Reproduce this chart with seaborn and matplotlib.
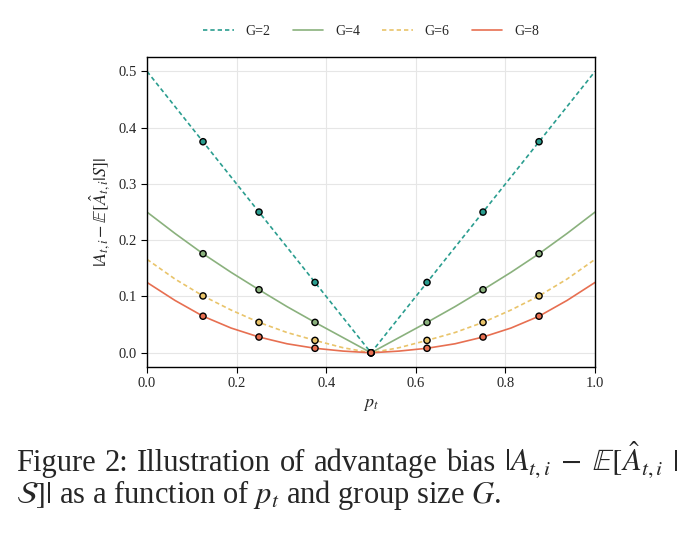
import numpy as np
import pandas as pd
from matplotlib import pyplot as plt
import seaborn as sns

# values
p_line = [0.0, 0.0625, 0.125, 0.1875, 0.25, 0.3125, 0.375, 0.4375, 0.5,
          0.5625, 0.625, 0.6875, 0.75, 0.8125, 0.875, 0.9375, 1.0]
bias_g2 = [0.5, 0.4375, 0.375, 0.3125, 0.25, 0.1875, 0.125, 0.0625, 0.0,
           0.0625, 0.125, 0.1875, 0.25, 0.3125, 0.375, 0.4375, 0.5]
bias_g4 = [0.25, 0.212, 0.176, 0.143, 0.112, 0.082, 0.054, 0.027, 0.0,
           0.027, 0.054, 0.082, 0.112, 0.143, 0.176, 0.212, 0.25]
bias_g6 = [0.166, 0.131, 0.101, 0.076, 0.054, 0.036, 0.022, 0.009, 0.0,
           0.009, 0.022, 0.036, 0.054, 0.076, 0.101, 0.131, 0.166]
bias_g8 = [0.125, 0.093, 0.065, 0.044, 0.028, 0.016, 0.008, 0.003, 0.0,
           0.003, 0.008, 0.016, 0.028, 0.044, 0.065, 0.093, 0.125]

p_marks = [0.125, 0.25, 0.375, 0.5, 0.625, 0.75, 0.875]
marks_g2 = [0.375, 0.25, 0.125, 0.0, 0.125, 0.25, 0.375]
marks_g4 = [0.176, 0.112, 0.054, 0.0, 0.054, 0.112, 0.176]
marks_g6 = [0.101, 0.054, 0.022, 0.0, 0.022, 0.054, 0.101]
marks_g8 = [0.065, 0.028, 0.008, 0.0, 0.008, 0.028, 0.065]

groups = ["G=2", "G=4", "G=6", "G=8"]
colors = ["#2a9d8f", "#8ab17d", "#e9c46a", "#e76f51"]

lines = pd.concat([pd.DataFrame({"p": p_line, "bias": b, "G": g})
                   for g, b in zip(groups, [bias_g2, bias_g4, bias_g6, bias_g8])])
marks = pd.concat([pd.DataFrame({"p": p_marks, "bias": b, "G": g})
                   for g, b in zip(groups, [marks_g2, marks_g4, marks_g6, marks_g8])])

sns.set_style("ticks")
plt.rcParams["font.family"] = ["Liberation Serif", "DejaVu Serif"]
plt.rcParams["mathtext.fontset"] = "stix"

fig = plt.figure(figsize=(6.86, 5.35), dpi=100)
ax = fig.add_axes([0.2143, 0.3143, 0.6531, 0.5786])

palette = dict(zip(groups, colors))
dashes = {"G=2": (2.6, 1.8), "G=4": "", "G=6": (2.6, 1.8), "G=8": ""}
sns.lineplot(data=lines, x="p", y="bias", hue="G", style="G", palette=palette,
             dashes=dashes, linewidth=1.2, ax=ax)
sns.scatterplot(data=marks, x="p", y="bias", hue="G", palette=palette, s=20,
                edgecolor="black", linewidth=1.0, legend=False, zorder=5, ax=ax)

ax.set_xlim(0, 1)
ax.set_ylim(-0.025, 0.525)
ax.set_xticks([0.0, 0.2, 0.4, 0.6, 0.8, 1.0])
ax.set_yticks([0.0, 0.1, 0.2, 0.3, 0.4, 0.5])
ax.grid(True, color="#e6e6e6", linewidth=0.8)
ax.set_axisbelow(True)
ax.tick_params(labelsize=10.5, direction="out", length=4, width=0.8, color="black")
for s in ax.spines.values():
    s.set_visible(True)
    s.set_color("black")
    s.set_linewidth(1.0)
ax.set_xlabel("$p_t$", fontsize=13)
ax.set_ylabel(r"$|A_{t,i} - \mathbb{E}[\hat{A}_{t,i}|S]|$", fontsize=13)

handles, labels = ax.get_legend_handles_labels()
ax.legend(handles, labels, loc="lower center", bbox_to_anchor=(0.5, 1.022),
          ncol=4, frameon=False, fontsize=10, handlelength=2.2,
          handletextpad=0.85, columnspacing=1.6)

# caption, first line justified like LaTeX
cap_size = 22
words = ["Figure", "2:", "Illustration", "of", "advantage", "bias",
         r"$|A_{t,i}\;-\;\mathbb{E}[\hat{A}_{t,i}$", r"$|$"]
x_left, x_right = 16 / 686, 678 / 686
texts = [fig.text(0, 0.1202, w, fontsize=cap_size, va="baseline") for w in words]
renderer = fig.canvas.get_renderer()
widths = [t.get_window_extent(renderer).width / fig.bbox.width for t in texts]
gap = (x_right - x_left - sum(widths)) / (len(words) - 1)
x = x_left
for t, w in zip(texts, widths):
    t.set_x(x)
    x += w + gap

fig.text(x_left, 0.0598, r"$\mathcal{S}]|$ as a function of $p_t$ and group size $G$.",
         fontsize=cap_size, va="baseline")

fig.savefig("out.png", dpi=100)
